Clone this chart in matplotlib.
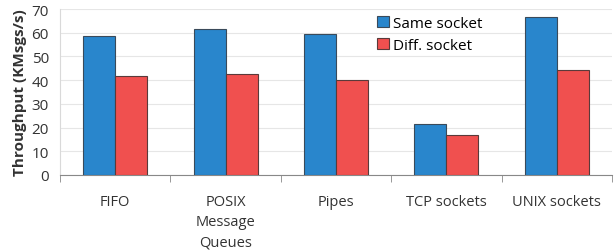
import numpy as np
import matplotlib
matplotlib.use("Agg")
import matplotlib.pyplot as plt

categories = ["FIFO", "POSIX\nMessage\nQueues", "Pipes", "TCP sockets", "UNIX sockets"]
same_socket = [58.7, 61.5, 59.6, 21.4, 66.8]
diff_socket = [41.6, 42.6, 40.2, 16.8, 44.4]

plt.rcParams['font.family'] = ['Open Sans', 'DejaVu Sans']

fig = plt.figure(figsize=(6.16, 2.53), dpi=100)
ax = fig.add_axes([60 / 616, 1 - 176 / 253, 552 / 616, 166 / 253])

index = np.arange(len(categories))
bar_width = 0.29
ax.bar(index - bar_width / 2, same_socket, bar_width, label='Same socket',
       color='#2986CC', edgecolor='#3a4a5a', linewidth=0.8, zorder=3)
ax.bar(index + bar_width / 2, diff_socket, bar_width, label='Diff. socket',
       color='#F0504F', edgecolor='#5a3a3a', linewidth=0.8, zorder=3)

ax.set_xlim(-0.5, len(categories) - 0.5)
ax.set_ylim(0, 70)
ax.set_yticks(range(0, 71, 10))
ax.yaxis.grid(True, color='#e6e6e6', linewidth=0.8, zorder=0)

ax.set_xticks(index)
ax.set_xticklabels(categories, fontsize=10.5, color='#333333', va='top', linespacing=1.45)
ax.set_xticks(np.arange(-0.5, len(categories), 1), minor=True)
ax.tick_params(axis='x', which='major', length=0, pad=14)
ax.tick_params(axis='x', which='minor', length=5, color='#888888', direction='out')
ax.tick_params(axis='y', length=0, labelsize=11, labelcolor='#333333', pad=8)

for side in ['top', 'right']:
    ax.spines[side].set_visible(False)
ax.spines['left'].set_color('#d9d9d9')
ax.spines['bottom'].set_color('#888888')

ax.set_ylabel('Throughput (KMsgs/s)', fontsize=11, fontweight='bold', color='#333333', labelpad=3)

leg = ax.legend(loc='upper left', bbox_to_anchor=(0.55, 1.04), frameon=False,
                fontsize=11, handlelength=0.75, handleheight=0.75, handletextpad=0.3,
                labelspacing=0.45)

plt.savefig('out.png', dpi=100)
